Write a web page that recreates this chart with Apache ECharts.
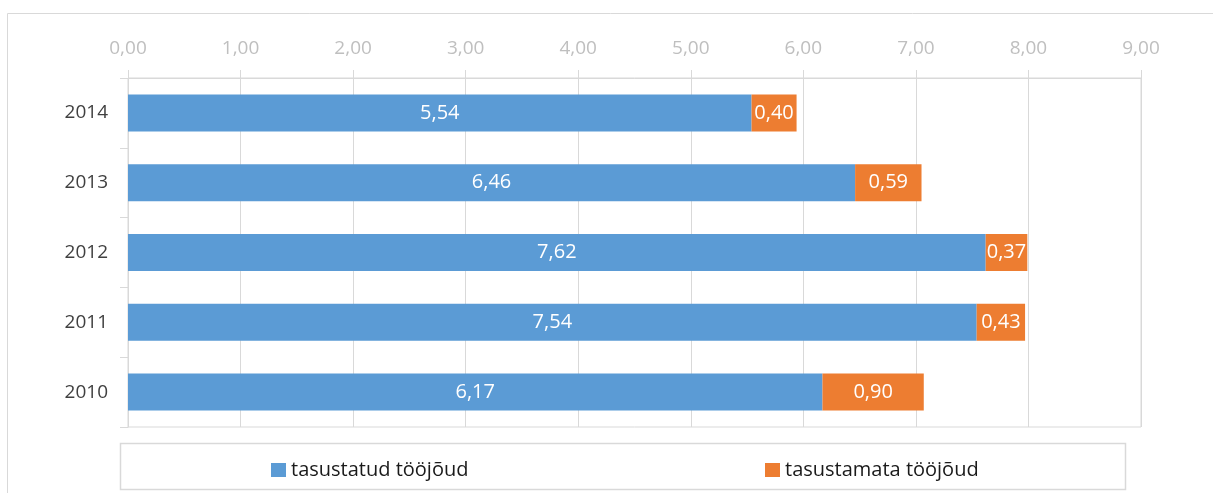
<!DOCTYPE html>
<html>
<head>
<meta charset="utf-8">
<script src="https://cdn.jsdelivr.net/npm/echarts@6/dist/echarts.min.js"></script>
<style>
  html, body { margin: 0; padding: 0; background: #fff; }
  #chart { width: 1213px; height: 493px; }
</style>
</head>
<body>
<div id="chart"></div>
<script>
const years = ['2010', '2011', '2012', '2013', '2014'];
const paidLabour = [6.17, 7.54, 7.62, 6.46, 5.54];
const unpaidLabour = [0.90, 0.43, 0.37, 0.59, 0.40];
const seriesNames = ['tasustatud tööjõud', 'tasustamata tööjõud'];

function fmt(v) {
    return v.toFixed(2).replace('.', ',');
}

const chart = echarts.init(document.getElementById('chart'));

const gridColor = '#d9d9d9';
const font = 'Open Sans';

const legendText = { fontSize: 20, color: '#1a1a1a', fontFamily: font };

const option = {
    animation: false,
    textStyle: { fontFamily: font },
    graphic: [
        {
            type: 'rect',
            shape: { x: 7.5, y: 13.5, width: 1230, height: 500 },
            style: { fill: 'none', stroke: gridColor, lineWidth: 1 },
            silent: true
        },
        {
            type: 'rect',
            shape: { x: 120.5, y: 443.5, width: 1005, height: 46 },
            style: { fill: 'none', stroke: gridColor, lineWidth: 1.5 },
            silent: true
        }
    ],
    legend: [
        {
            data: [seriesNames[0]],
            left: 266,
            top: 455,
            itemWidth: 15,
            itemHeight: 14,
            itemGap: 6,
            icon: 'rect',
            textStyle: legendText
        },
        {
            data: [seriesNames[1]],
            left: 760,
            top: 455,
            itemWidth: 15,
            itemHeight: 14,
            icon: 'rect',
            textStyle: legendText
        }
    ],
    grid: {
        left: 128,
        right: 72,
        top: 78,
        bottom: 66,
        show: true,
        borderColor: gridColor,
        borderWidth: 1
    },
    xAxis: {
        type: 'value',
        position: 'top',
        min: 0,
        max: 9,
        interval: 1,
        axisLine: { show: true, lineStyle: { color: gridColor } },
        axisTick: { show: true, length: 8, lineStyle: { color: gridColor } },
        axisLabel: {
            formatter: fmt,
            color: '#bfbfbf',
            fontSize: 19,
            margin: 20
        },
        splitLine: { show: true, lineStyle: { color: gridColor } }
    },
    yAxis: {
        type: 'category',
        data: years,
        axisLine: { show: true, lineStyle: { color: gridColor } },
        axisTick: { show: true, length: 8, lineStyle: { color: gridColor } },
        axisLabel: { color: '#404040', fontSize: 19, margin: 20 }
    },
    series: [
        {
            name: seriesNames[0],
            type: 'bar',
            stack: 'total',
            data: paidLabour,
            barCategoryGap: '47%',
            itemStyle: { color: '#5b9bd5' },
            label: {
                show: true,
                position: 'inside',
                color: '#fff',
                fontSize: 20,
                formatter: p => fmt(p.value)
            }
        },
        {
            name: seriesNames[1],
            type: 'bar',
            stack: 'total',
            data: unpaidLabour,
            barCategoryGap: '47%',
            itemStyle: { color: '#ed7d31' },
            label: {
                show: true,
                position: 'inside',
                color: '#fff',
                fontSize: 20,
                formatter: p => fmt(p.value)
            }
        }
    ]
};

chart.setOption(option);
</script>
</body>
</html>
